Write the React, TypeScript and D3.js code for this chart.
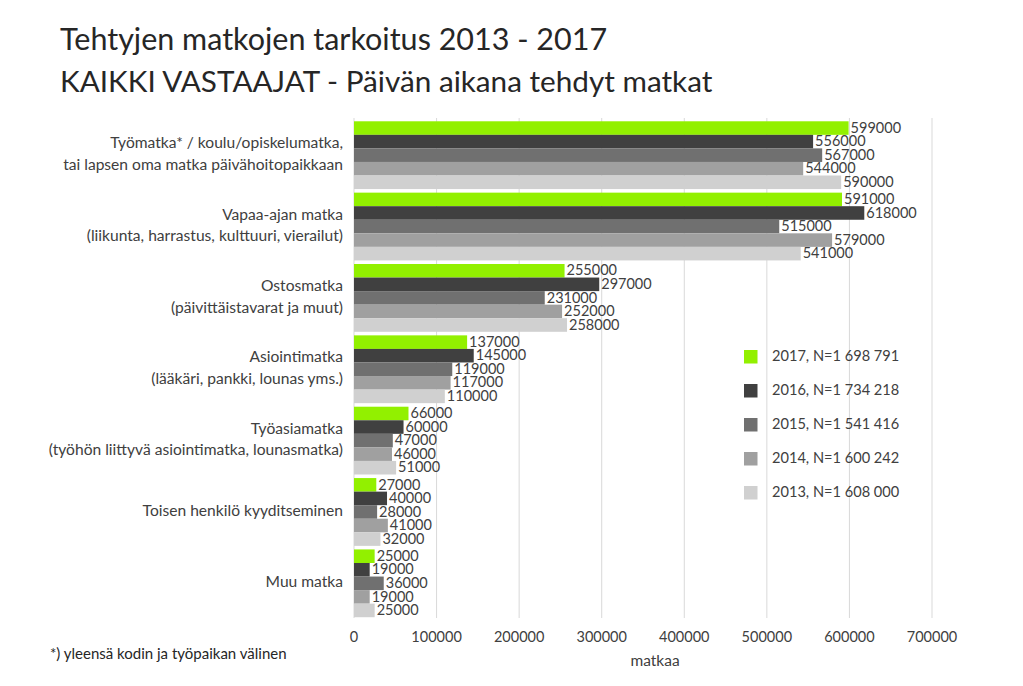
import React from "react";
import * as d3 from "d3";

const categories: string[][] = [
  ["Työmatka* / koulu/opiskelumatka,", "tai lapsen oma matka päivähoitopaikkaan"],
  ["Vapaa-ajan matka", "(liikunta, harrastus, kulttuuri, vierailut)"],
  ["Ostosmatka", "(päivittäistavarat ja muut)"],
  ["Asiointimatka", "(lääkäri, pankki, lounas yms.)"],
  ["Työasiamatka", "(työhön liittyvä asiointimatka, lounasmatka)"],
  ["Toisen henkilö kyyditseminen"],
  ["Muu matka"],
];

const seriesNames = [
  "2017, N=1 698 791",
  "2016, N=1 734 218",
  "2015, N=1 541 416",
  "2014, N=1 600 242",
  "2013, N=1 608 000",
];

const s2017 = [599000, 591000, 255000, 137000, 66000, 27000, 25000];
const s2016 = [556000, 618000, 297000, 145000, 60000, 40000, 19000];
const s2015 = [567000, 515000, 231000, 119000, 47000, 28000, 36000];
const s2014 = [544000, 579000, 252000, 117000, 46000, 41000, 19000];
const s2013 = [590000, 541000, 258000, 110000, 51000, 32000, 25000];

const seriesValues = [s2017, s2016, s2015, s2014, s2013];
const seriesColors = ["#92f000", "#404040", "#707070", "#a0a0a0", "#d0d0d0"];

const xTicks = [0, 100000, 200000, 300000, 400000, 500000, 600000, 700000];

const FONT = "Lato, 'Open Sans', sans-serif";
const TXT = "#404040";

export default function App() {
  const W = 1023;
  const H = 686;
  const x = d3.scaleLinear().domain([0, 700000]).range([354, 932]);
  const catIdx = categories.map((_, i) => String(i));
  const y = d3
    .scaleBand<string>()
    .domain(catIdx)
    .range([119.5, 619])
    .paddingInner(0.05)
    .paddingOuter(0.025);
  const inner = d3
    .scaleBand<string>()
    .domain(seriesNames.map((_, i) => String(i)))
    .range([0, y.bandwidth()]);

  return (
    <svg
      width={W}
      height={H}
      style={{ position: "absolute", left: 0, top: 0, background: "#fff" }}
      fontFamily={FONT}
    >
      <rect x={0} y={0} width={W} height={H} fill="#fff" />
      <text x={60} y={50} fontSize={30.5} fill="#262626">
        Tehtyjen matkojen tarkoitus 2013 - 2017
      </text>
      <text x={60} y={92} fontSize={29.7} fill="#262626">
        KAIKKI VASTAAJAT - Päivän aikana tehdyt matkat
      </text>

      {xTicks.map((t) => (
        <line
          key={"g" + t}
          x1={x(t)}
          x2={x(t)}
          y1={118}
          y2={618}
          stroke="#d9d9d9"
          strokeWidth={1}
        />
      ))}

      {categories.map((lines, ci) => {
        const y0 = y(String(ci))!;
        const cy = y0 + y.bandwidth() / 2;
        return (
          <g key={"c" + ci}>
            {seriesValues.map((vals, si) => {
              const by = y0 + inner(String(si))!;
              const bh = inner.bandwidth();
              return (
                <g key={"b" + si}>
                  <rect
                    x={x(0)}
                    y={by}
                    width={x(vals[ci]) - x(0)}
                    height={bh}
                    fill={seriesColors[si]}
                  />
                  <text
                    x={x(vals[ci]) + 2}
                    y={by + bh / 2 + 1}
                    dominantBaseline="middle"
                    fontSize={14.5}
                    fill={TXT}
                  >
                    {vals[ci]}
                  </text>
                </g>
              );
            })}
            {lines.map((ln, li) => (
              <text
                key={"l" + li}
                x={343}
                y={cy + (li - (lines.length - 1) / 2) * 21.7}
                textAnchor="end"
                dominantBaseline="middle"
                fontSize={15.6}
                fill={TXT}
              >
                {ln}
              </text>
            ))}
          </g>
        );
      })}

      {xTicks.map((t) => (
        <text
          key={"t" + t}
          x={x(t)}
          y={638}
          textAnchor="middle"
          dominantBaseline="middle"
          fontSize={14.5}
          fill={TXT}
        >
          {t}
        </text>
      ))}
      <text x={655} y={662} textAnchor="middle" dominantBaseline="middle" fontSize={15.5} fill={TXT}>
        matkaa
      </text>
      <text x={50} y={655} dominantBaseline="middle" fontSize={15} fill="#262626">
        *) yleensä kodin ja työpaikan välinen
      </text>

      {seriesNames.map((n, i) => (
        <g key={"lg" + i}>
          <rect x={744} y={350 + i * 34} width={13.5} height={13.5} fill={seriesColors[i]} />
          <text
            x={772}
            y={357 + i * 34}
            dominantBaseline="middle"
            fontSize={14.6}
            fill={TXT}
          >
            {n}
          </text>
        </g>
      ))}
    </svg>
  );
}
